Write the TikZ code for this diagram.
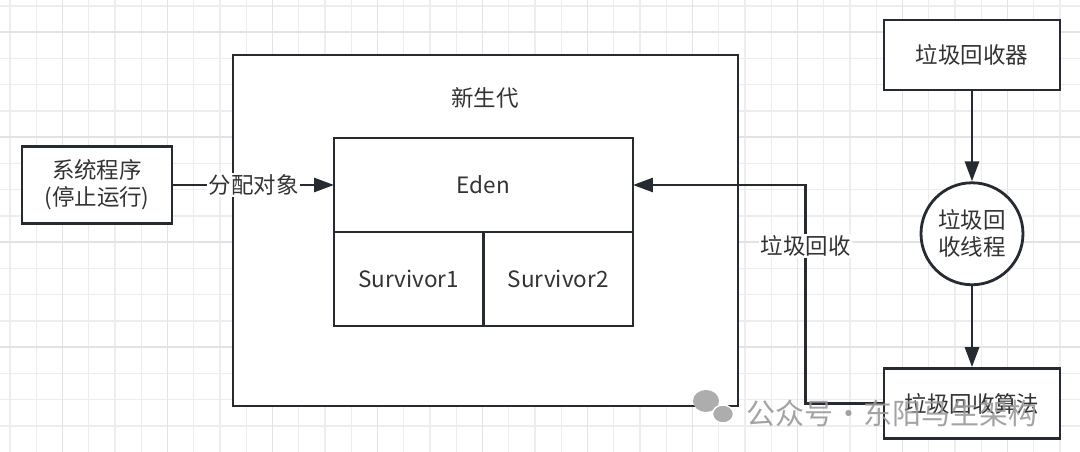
\documentclass[tikz,border=0pt]{standalone}
\usepackage{fontspec}
\newfontfamily\cjk{Noto Sans CJK SC}
\usepackage{tikz}
\usetikzlibrary{arrows.meta, positioning}
\definecolor{ink}{HTML}{262B31}
\definecolor{txt}{HTML}{333333}
\definecolor{gridc}{HTML}{EDEDED}
\definecolor{gridm}{HTML}{E3E3E3}

\begin{document}
\begin{tikzpicture}[x=0.02cm, y=-0.02cm]
    \tikzstyle{box}  = [rectangle, draw=ink, line width=1.6pt, fill=white, text=txt,
                        align=center, font=\cjk\fontsize{12.8}{15.5}\selectfont]
    \tikzstyle{cell} = [box, outer sep=0pt, minimum width=2.99cm, minimum height=1.88cm]
    \tikzstyle{flow} = [-{Triangle[length=0.4cm, width=0.28cm]}, ink, line width=1.6pt]
    \tikzstyle{tag}  = [fill=white, text=txt, inner sep=1pt, font=\cjk\fontsize{12.8}{15.5}\selectfont]

    % paper with grid
    \useasboundingbox (0,0) rectangle (1080,452);
    \fill[white] (0,0) rectangle (1080,452);
    \foreach \i in {0,...,40} \draw[gridc, line width=0.6pt] ({10+26.25*\i},0) -- ({10+26.25*\i},452);
    \foreach \i in {0,...,17} \draw[gridc, line width=0.6pt] (0,{6+26.25*\i}) -- (1080,{6+26.25*\i});
    \foreach \i in {0,...,9} \draw[gridm, line width=0.9pt] ({62.5+105*\i},0) -- ({62.5+105*\i},452);
    \foreach \i in {0,...,3} \draw[gridm, line width=0.9pt] (0,{32.25+105*\i}) -- (1080,{32.25+105*\i});

    \node (young)  [box, minimum width=10.1cm, minimum height=7.02cm] at (485.5,230.5) {};
    \node (yname)  [text=txt, font=\cjk\fontsize{12.8}{15.5}\selectfont] at (485,98) {新生代};
    \node (eden)   [box, outer sep=0pt, minimum width=5.98cm, minimum height=1.88cm] at (483.5,185) {Eden};
    \node (surv1)  [cell, below right=0pt of eden.south west] {Survivor1};
    \node (surv2)  [cell, right=0pt of surv1] {Survivor2};

    \node (sys)    [box, minimum width=3cm, minimum height=1.54cm] at (97,185) {系统程序\\(停止运行)};

    \node (gc)     [box, minimum width=3.52cm, minimum height=1.4cm] at (972,55) {垃圾回收器};
    \node (thread) [box, circle, minimum size=2.04cm, inner sep=0pt, below=1.8cm of gc] {垃圾回\\收线程};
    \node (algo)   [box, minimum width=3.52cm, minimum height=1.4cm, below=1.62cm of thread] {垃圾回收算法};

    \draw [flow] (sys) -- node[tag] {分配对象} (eden);
    \draw [flow] (gc) -- (thread);
    \draw [flow] (thread) -- (algo);
    \draw [flow] (algo.west) -- ++(-77,0) |- node[tag, pos=0.36] {垃圾回收} (eden.east);

    % watermark
    \fill[black!32] (706,401) ellipse [x radius=0.26cm, y radius=0.22cm];
    \filldraw[black!32, draw=white, line width=0.8pt] (723,414) ellipse [x radius=0.21cm, y radius=0.18cm];
    \node (wm) [anchor=west, text=black!40, opacity=0.9, font=\cjk\fontsize{16.5}{18}\selectfont]
               at (740,413) {公众号\hspace{0.5pt}·\hspace{0.5pt}东阳马生架构};
\end{tikzpicture}
\end{document}
